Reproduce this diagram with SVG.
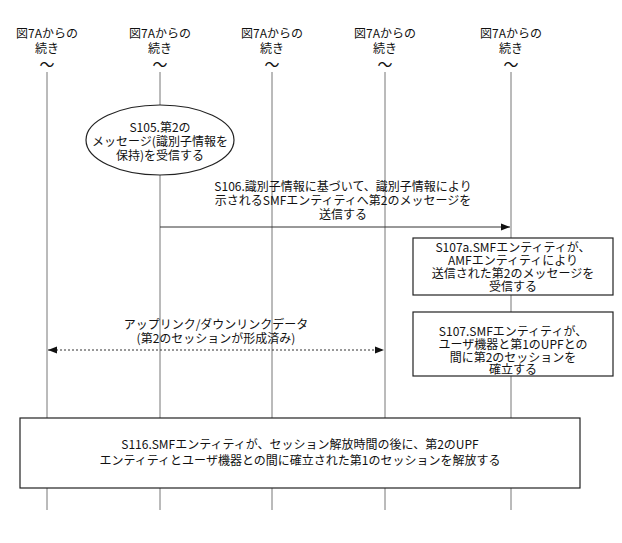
<svg xmlns="http://www.w3.org/2000/svg" width="622" height="543" viewBox="0 0 622 543">
<style>
text{font-family:"Noto Sans CJK JP","Liberation Sans",sans-serif;font-size:12px;fill:#111;text-anchor:middle}
.t{font-size:15px}
.l{stroke:#777;stroke-width:1;fill:none}
.b{stroke:#222;stroke-width:1.2;fill:#fff}
</style>
<defs>
<marker id="a" viewBox="0 0 10 10" refX="10" refY="5" markerWidth="9" markerHeight="9" orient="auto-start-reverse"><path d="M0,1 L10,5 L0,9 z" fill="#111"/></marker>
</defs>
<rect width="622" height="543" fill="#fff"/>
<g id="lifelines">
<g id="h1"><text x="47" y="38">図7Aからの</text><text x="47" y="53">続き</text><text class="t" x="47" y="70">〜</text><path class="l" d="M47 72V418M47 488V510"/></g>
<g id="h2"><text x="160" y="38">図7Aからの</text><text x="160" y="53">続き</text><text class="t" x="160" y="70">〜</text><path class="l" d="M160 72V105M160 175V418M160 488V510"/></g>
<g id="h3"><text x="272" y="38">図7Aからの</text><text x="272" y="53">続き</text><text class="t" x="272" y="70">〜</text><path class="l" d="M272 72V418M272 488V510"/></g>
<g id="h4"><text x="385" y="38">図7Aからの</text><text x="385" y="53">続き</text><text class="t" x="385" y="70">〜</text><path class="l" d="M385 72V418M385 488V510"/></g>
<g id="h5"><text x="511" y="38">図7Aからの</text><text x="511" y="53">続き</text><text class="t" x="511" y="70">〜</text><path class="l" d="M511 72V238M511 295V312M511 376V418M511 488V510"/></g>
</g>
<g id="connectors">
<line stroke="#333" x1="160" y1="227" x2="510" y2="227" marker-end="url(#a)"/>
<text x="343" y="191">S106.識別子情報に基づいて、識別子情報により</text>
<text x="343" y="205">示されるSMFエンティティへ第2のメッセージを</text>
<text x="343" y="219">送信する</text>
<line stroke="#333" stroke-dasharray="2,2" x1="48" y1="350" x2="384" y2="350" marker-start="url(#a)" marker-end="url(#a)"/>
<text x="216" y="329">アップリンク/ダウンリンクデータ</text>
<text x="216" y="343">(第2のセッションが形成済み)</text>
</g>
<g id="s105"><ellipse class="b" cx="160" cy="140" rx="74" ry="35"/>
<text x="160" y="132">S105.第2の</text><text x="160" y="146">メッセージ(識別子情報を</text><text x="160" y="160">保持)を受信する</text></g>
<g id="s107a"><rect class="b" x="413" y="238" width="200" height="57"/>
<text x="513" y="252">S107a.SMFエンティティが、</text><text x="513" y="265">AMFエンティティにより</text><text x="513" y="278">送信された第2のメッセージを</text><text x="513" y="291">受信する</text></g>
<g id="s107"><rect class="b" x="413" y="312" width="200" height="64"/>
<text x="513" y="336">S107.SMFエンティティが、</text><text x="513" y="349">ユーザ機器と第1のUPFとの</text><text x="513" y="362">間に第2のセッションを</text><text x="513" y="375" dy="-1">確立する</text></g>
<g id="s116"><rect class="b" x="20" y="418" width="560" height="70"/>
<text x="300" y="449">S116.SMFエンティティが、セッション解放時間の後に、第2のUPF</text>
<text x="300" y="465">エンティティとユーザ機器との間に確立された第1のセッションを解放する</text></g>
</svg>
